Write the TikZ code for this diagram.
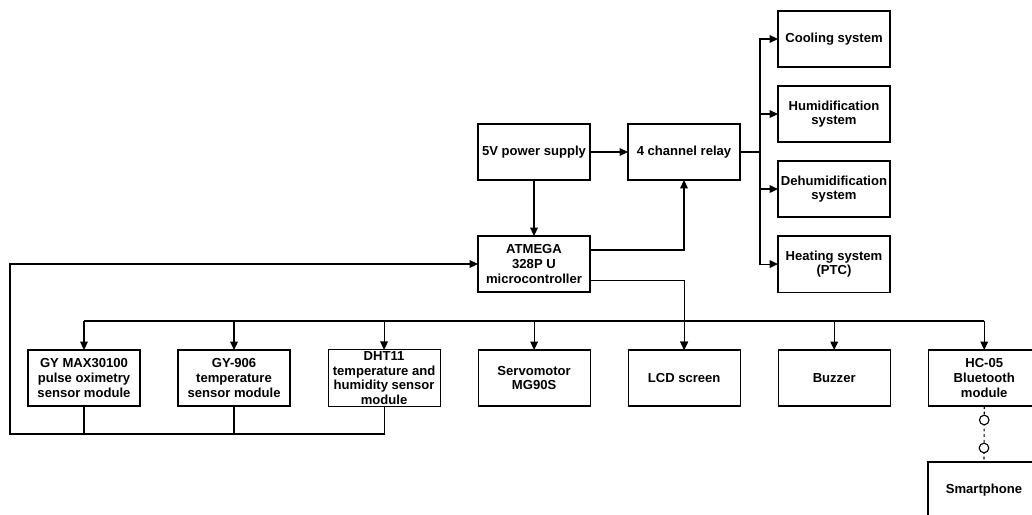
\documentclass[tikz,border=0pt]{standalone}
\usepackage{fontspec}
\setmainfont{Liberation Sans}
\usetikzlibrary{calc,positioning,arrows.meta}

\begin{document}
\begin{tikzpicture}[x=0.025cm, y=-0.025cm, node distance=0.95cm, >={Triangle[length=6pt,width=5.5pt]}]
  % requires: \usetikzlibrary{calc,positioning,arrows.meta}
  \tikzset{
    blockBox/.style={draw, line width=0.8pt, fill=white, minimum width=2.8cm, minimum height=1.4cm, inner sep=1pt, outer sep=0pt, align=center, font=\fontsize{9.3}{10.5}\selectfont\bfseries},
    wireLine/.style={line width=0.8pt},
    linkDot/.style={draw, circle, line width=0.8pt, fill=white, inner sep=0pt, minimum size=0.24cm}
  }

  \useasboundingbox (0,0) rectangle (1032,514);

% --- Supply, relay and controller ---
  \node[blockBox] (psu) at (534,152) {5V power supply};
  \node[blockBox] (relay) at (684,152) {4 channel relay};
  \node[blockBox] (mcu) at (534,264) {ATMEGA\\328P U\\microcontroller};

% --- Relay outputs ---
  \node[blockBox] (cooling) at (834,39) {Cooling system};
  \node[blockBox] (humid) [below=0.475cm of cooling] {Humidification\\system};
  \node[blockBox] (dehumid) [below=0.475cm of humid] {Dehumidification\\system};
  \node[blockBox] (heating) [below=0.475cm of dehumid] {Heating system\\(PTC)};

% --- Bottom row ---
  \node[blockBox] (gymax) at (84,378) {GY MAX30100\\pulse oximetry\\sensor module};
  \node[blockBox] (gy906) [right=of gymax] {GY-906\\temperature\\sensor module};
  \node[blockBox] (dht) [right=of gy906] {DHT11\\temperature and\\humidity sensor\\module};
  \node[blockBox] (servo) [right=of dht] {Servomotor\\MG90S};
  \node[blockBox] (lcd) [right=of servo] {LCD screen};
  \node[blockBox] (buzzer) [right=of lcd] {Buzzer};
  \node[blockBox] (bt) [right=of buzzer] {HC-05\\Bluetooth\\module};
  \node[blockBox] (phone) at (984,490) {Smartphone};

  % Helper coordinates for the buses
  \coordinate (relayFork) at ($(relay.east)+(0.5cm,0)$);
  \coordinate (busY) at (0,321);
  \coordinate (fbY) at (0,434);
  \coordinate (fbX) at (10,0);

% --- Connectors ---
  \draw[wireLine,->] (psu) -- (relay);
  \draw[wireLine,->] (psu) -- (mcu);
  \draw[wireLine,->] ($(mcu.north east)!0.25!(mcu.south east)$) -| (relay.south);
  \draw[wireLine,->] ($(mcu.north east)!0.8!(mcu.south east)$) -| (lcd.north);

  \draw[wireLine] (relay.east) -- (relayFork);
  \foreach \out in {cooling,humid,dehumid,heating}
    \draw[wireLine,->] (relayFork) |- (\out.west);

  \draw[wireLine] (gymax.north |- busY) -- (bt.north |- busY);
  \foreach \dev in {gymax,gy906,dht,servo,lcd,buzzer,bt}
    \draw[wireLine,->] (\dev.north |- busY) -- (\dev.north);

  % sensor feedback to controller
  \draw[wireLine] (gymax.south) -- (gymax.south |- fbY);
  \draw[wireLine] (gy906.south) -- (gy906.south |- fbY);
  \draw[wireLine,->] (dht.south) |- (fbX |- fbY) |- (mcu.west);

  % bluetooth link
  \draw[wireLine, dash pattern=on 2pt off 2pt] (bt.south) -- (phone.north);
  \node[linkDot] (btDotA) at ($(bt.south)+(0,14)$) {};
  \node[linkDot] (btDotB) at ($(phone.north)+(0,-14)$) {};

\end{tikzpicture}
\end{document}
